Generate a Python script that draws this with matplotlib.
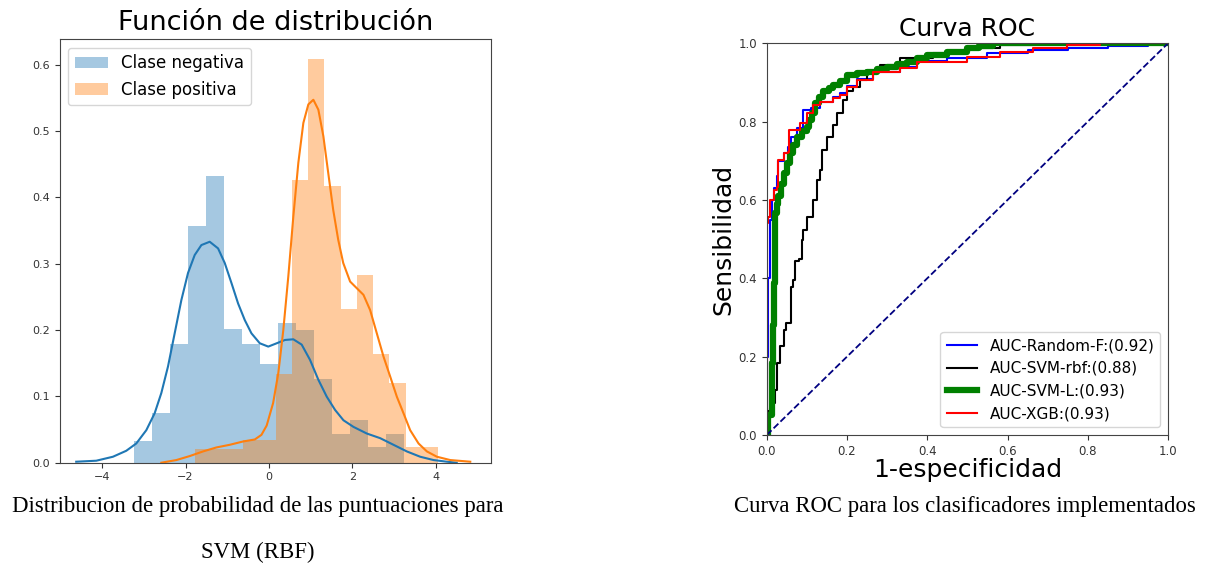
import matplotlib
matplotlib.use("Agg")
import matplotlib.pyplot as plt
import numpy as np

# ---------------- data: histogram ----------------
neg_start, neg_width = -3.23, 0.4307
neg_heights = [0.033, 0.0745, 0.179, 0.357, 0.432, 0.201, 0.179, 0.149,
               0.211, 0.200, 0.126, 0.044, 0.064, 0.024, 0.044]
pos_start, pos_width = -1.78, 0.3887
pos_heights = [0.020, 0.020, 0.020, 0.034, 0.034, 0.134, 0.426, 0.609,
               0.417, 0.231, 0.283, 0.164, 0.120, 0.024, 0.024]

neg_kde_x = [-4.62, -4.14, -3.74, -3.42, -3.18, -2.94, -2.74, -2.58, -2.42, -2.26,
             -2.10, -1.94, -1.78, -1.62, -1.42, -1.22, -1.06, -0.90, -0.74, -0.58,
             -0.42, -0.22, -0.017, 0.185, 0.384, 0.584, 0.784, 0.984, 1.184, 1.385,
             1.585, 1.785, 2.025, 2.345, 2.665, 2.985, 3.305, 3.625, 3.945, 4.265, 4.5]
neg_kde_y = [0.0015, 0.003, 0.009, 0.018, 0.029, 0.049, 0.0745, 0.105, 0.145, 0.195,
             0.245, 0.286, 0.313, 0.328, 0.333, 0.323, 0.301, 0.271, 0.240, 0.215,
             0.195, 0.180, 0.175, 0.180, 0.185, 0.186, 0.178, 0.155, 0.125, 0.0995,
             0.0795, 0.064, 0.054, 0.044, 0.037, 0.027, 0.017, 0.009, 0.004, 0.0015, 0.0]
pos_kde_x = [-2.58, -2.22, -1.90, -1.58, -1.26, -0.94, -0.62, -0.34, -0.18, -0.055,
             0.10, 0.224, 0.344, 0.464, 0.584, 0.704, 0.824, 0.944, 1.064, 1.184,
             1.304, 1.42, 1.54, 1.66, 1.78, 1.945, 2.105, 2.265, 2.425, 2.585, 2.745,
             2.905, 3.065, 3.225, 3.385, 3.585, 3.785, 4.025, 4.345, 4.825]
pos_kde_y = [0.0, 0.004, 0.010, 0.017, 0.023, 0.027, 0.032, 0.035, 0.042, 0.056,
             0.090, 0.135, 0.200, 0.281, 0.371, 0.452, 0.512, 0.540, 0.547, 0.532,
             0.492, 0.437, 0.381, 0.336, 0.301, 0.273, 0.263, 0.253, 0.230, 0.195,
             0.160, 0.130, 0.0995, 0.0745, 0.049, 0.029, 0.017, 0.009, 0.004, 0.0015]

hist_labels = ["Clase negativa", "Clase positiva"]
hist_xticks = [-4, -2, 0, 2, 4]
hist_yticks = [0.0, 0.1, 0.2, 0.3, 0.4, 0.5, 0.6]

# ---------------- data: ROC ----------------
rf_fpr = [0.0, 0.0, 0.004, 0.008, 0.012, 0.017, 0.025, 0.029, 0.042, 0.054, 0.06, 0.075,
          0.09, 0.11, 0.133, 0.166, 0.183, 0.199, 0.224, 0.266, 0.332, 0.374, 0.45,
          0.55, 0.65, 0.75, 0.85, 0.95, 1.0]
rf_tpr = [0.0, 0.2, 0.4, 0.55, 0.6, 0.63, 0.66, 0.70, 0.72, 0.735, 0.76, 0.785,
          0.83, 0.835, 0.851, 0.862, 0.872, 0.892, 0.91, 0.928, 0.94, 0.955, 0.962,
          0.975, 0.982, 0.988, 0.993, 0.998, 1.0]

svm_rbf_fpr = [0.0, 0.004, 0.008, 0.016, 0.021, 0.025, 0.033, 0.042, 0.048, 0.06, 0.066,
               0.071, 0.081, 0.087, 0.091, 0.1, 0.116, 0.125, 0.133, 0.137, 0.15, 0.166,
               0.174, 0.191, 0.199, 0.216, 0.233, 0.249, 0.282, 0.332, 0.415, 0.498,
               0.581, 0.664, 1.0]
svm_rbf_tpr = [0.0, 0.06, 0.07, 0.081, 0.115, 0.183, 0.226, 0.268, 0.285, 0.379, 0.396,
               0.443, 0.449, 0.498, 0.523, 0.557, 0.6, 0.651, 0.677, 0.728, 0.762, 0.791,
               0.821, 0.855, 0.877, 0.889, 0.906, 0.928, 0.945, 0.962, 0.974, 0.987,
               0.996, 1.0, 1.0]

svm_l_fpr = [0.0, 0.004, 0.012, 0.015, 0.018, 0.021, 0.025, 0.029, 0.035, 0.042, 0.05,
             0.058, 0.066, 0.075, 0.088, 0.1, 0.106, 0.112, 0.12, 0.13, 0.141, 0.155,
             0.166, 0.183, 0.199, 0.225, 0.249, 0.275, 0.299, 0.325, 0.349, 0.375,
             0.399, 0.45, 0.498, 0.53, 0.565, 1.0]
svm_l_tpr = [0.0, 0.05, 0.183, 0.28, 0.387, 0.566, 0.59, 0.609, 0.64, 0.668, 0.695,
             0.719, 0.74, 0.762, 0.775, 0.787, 0.805, 0.821, 0.847, 0.862, 0.877, 0.886,
             0.894, 0.905, 0.919, 0.924, 0.928, 0.934, 0.94, 0.947, 0.953, 0.962,
             0.970, 0.979, 0.987, 0.994, 1.0, 1.0]

xgb_fpr = [0.0, 0.0, 0.004, 0.008, 0.017, 0.025, 0.029, 0.042, 0.054, 0.056, 0.075,
           0.083, 0.1, 0.116, 0.133, 0.166, 0.183, 0.199, 0.224, 0.266, 0.332, 0.374,
           0.498, 0.581, 0.664, 0.748, 0.831, 1.0]
xgb_tpr = [0.0, 0.54, 0.557, 0.60, 0.626, 0.634, 0.702, 0.719, 0.723, 0.779, 0.779,
           0.796, 0.821, 0.843, 0.851, 0.86, 0.868, 0.889, 0.906, 0.928, 0.936, 0.953,
           0.966, 0.979, 0.987, 0.996, 1.0, 1.0]

roc_labels = ["AUC-Random-F:(0.92)", "AUC-SVM-rbf:(0.88)", "AUC-SVM-L:(0.93)", "AUC-XGB:(0.93)"]
roc_ticks = [0.0, 0.2, 0.4, 0.6, 0.8, 1.0]

captions = ["Distribucion de probabilidad de las puntuaciones para", "SVM (RBF)",
            "Curva ROC para los clasificadores implementados"]

# ---------------- figure ----------------
fig = plt.figure(figsize=(12.05, 5.69), dpi=100)

ax1 = fig.add_axes([0.0494, 0.1868, 0.358, 0.744])
neg_edges = neg_start + neg_width * np.arange(len(neg_heights))
pos_edges = pos_start + pos_width * np.arange(len(pos_heights))
ax1.bar(neg_edges, neg_heights, width=neg_width, align="edge", color="#1f77b4",
        alpha=0.4, linewidth=0, label=hist_labels[0])
ax1.bar(pos_edges, pos_heights, width=pos_width, align="edge", color="#ff7f0e",
        alpha=0.4, linewidth=0, label=hist_labels[1])
ax1.plot(neg_kde_x, neg_kde_y, color="#1f77b4", lw=1.5)
ax1.plot(pos_kde_x, pos_kde_y, color="#ff7f0e", lw=1.5)
ax1.set_xlim(-5.02, 5.32)
ax1.set_ylim(0, 0.638)
ax1.set_xticks(hist_xticks)
ax1.set_xticklabels(["\u22124", "\u22122", "0", "2", "4"])
ax1.set_yticks(hist_yticks)
ax1.tick_params(labelsize=8, colors="#333333")
ax1.set_title("Función de distribución", fontsize=19.5, pad=7)
ax1.legend(loc="upper left", fontsize=12)
for s in ax1.spines.values():
    s.set_color("#444444")

ax2 = fig.add_axes([0.6363, 0.2355, 0.333, 0.6884])
ax2.plot(rf_fpr, rf_tpr, color="blue", lw=1.5, drawstyle="steps-post", label=roc_labels[0])
ax2.plot(svm_rbf_fpr, svm_rbf_tpr, color="black", lw=1.5, drawstyle="steps-post", label=roc_labels[1])
ax2.plot(svm_l_fpr, svm_l_tpr, color="green", lw=4.5, drawstyle="steps-post", label=roc_labels[2])
ax2.plot(xgb_fpr, xgb_tpr, color="red", lw=1.5, drawstyle="steps-post", label=roc_labels[3])
ax2.plot([0, 1], [0, 1], color="navy", lw=1.3, linestyle="--")
ax2.set_xlim(0, 1)
ax2.set_ylim(0, 1)
ax2.set_xticks(roc_ticks)
ax2.set_yticks(roc_ticks)
ax2.tick_params(labelsize=8.5, colors="#333333")
ax2.set_title("Curva ROC", fontsize=18, pad=5)
ax2.set_xlabel("1-especificidad", fontsize=18, labelpad=0)
ax2.set_ylabel("Sensibilidad", fontsize=18, labelpad=2)
ax2.legend(loc="lower right", fontsize=11)
for s in ax2.spines.values():
    s.set_color("#444444")

fig.text(0.2137, 0.1107, captions[0], fontsize=16.4, family="Liberation Serif",
         ha="center", va="center")
fig.text(0.2137, 0.0299, captions[1], fontsize=16.4, family="Liberation Serif",
         ha="center", va="center")
fig.text(0.8004, 0.1107, captions[2], fontsize=16.4, family="Liberation Serif",
         ha="center", va="center")

fig.savefig("out.png", dpi=100)
